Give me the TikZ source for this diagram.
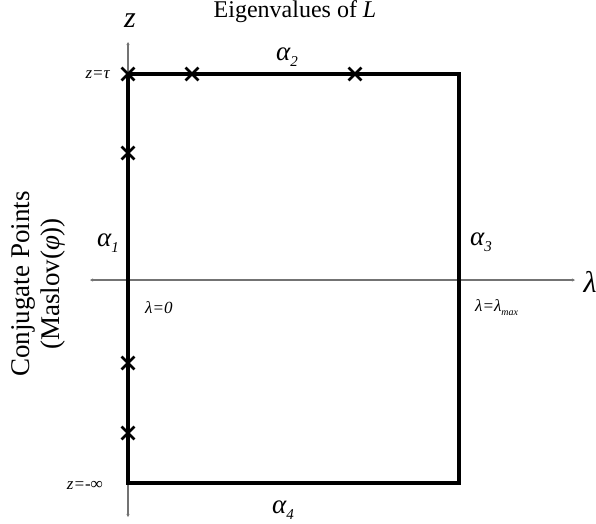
\documentclass[tikz,border=0pt]{standalone}
\usepackage{fontspec}
\setmainfont{Liberation Serif}
\usetikzlibrary{shapes.misc,arrows.meta}
\tikzset{
  axisline/.style={draw=black!55, line width=1.3pt, {Stealth[length=3pt,width=3pt]}-{Stealth[length=3pt,width=3pt]}},
  frameline/.style={draw=black, line width=3.4pt, line join=miter},
  xmark/.style={cross out, draw=black, line width=2.8pt, minimum size=10pt, inner sep=0pt},
  biglab/.style={inner sep=0pt, font=\fontsize{27}{29}\selectfont\itshape},
  smalllab/.style={inner sep=0pt, font=\fontsize{17}{19}\selectfont\itshape},
  titlelab/.style={inner sep=0pt, font=\fontsize{24}{26}\selectfont},
}
\newcommand{\alab}[1]{α\raisebox{-0.45ex}{\fontsize{15}{15}\selectfont #1}}
\begin{document}
\begin{tikzpicture}[x={(1pt,0)}, y={(0,-1pt)}]
\useasboundingbox (0,0) rectangle (596,523);
% axes
\coordinate (vtop) at (128,42);
\coordinate (vbot) at (128,517);
\coordinate (hleft) at (90,280);
\coordinate (hright) at (575,280);
\draw[axisline] (vbot) -- (vtop);
\draw[axisline] (hleft) -- (hright);
% frame
\coordinate (TL) at (128,74);
\coordinate (TR) at (459,74);
\coordinate (BR) at (459,483);
\coordinate (BL) at (128,483);
\draw[frameline] (TL) -- (TR) -- (BR) -- (BL) -- cycle;
% crosses
\node[xmark] (x1) at (128,74) {};
\node[xmark] (x2) at (192,74) {};
\node[xmark] (x3) at (355,74) {};
\node[xmark] (x4) at (128,153) {};
\node[xmark] (x5) at (128,363) {};
\node[xmark] (x6) at (128,433) {};
% labels
\node[titlelab] (title) at (295,12) {Eigenvalues of \textit{L}};
\node[inner sep=0pt, font=\fontsize{30}{32}\selectfont\itshape] (zlab) at (130,21) {z};
\node[inner sep=0pt, font=\fontsize{30}{32}\selectfont\itshape] (llab) at (590,282) {λ};
\node[smalllab, anchor=east] (ztau) at (110,75) {z=τ};
\node[smalllab, anchor=east] (zinf) at (103,485) {z=-∞};
\node[smalllab, anchor=west] (l0) at (145,308) {λ=0};
\node[smalllab, anchor=west] (lmax) at (475,308) {λ=λ\raisebox{-0.5ex}{\fontsize{10}{10}\selectfont max}};
\node[biglab] (a1) at (108,243) {\alab{1}};
\node[biglab] (a2) at (287,57) {\alab{2}};
\node[biglab] (a3) at (481,242) {\alab{3}};
\node[biglab] (a4) at (283,510) {\alab{4}};
\node[inner sep=0pt, rotate=90, align=center, font=\fontsize{27}{30}\selectfont] (cp) at (38,284) {Conjugate Points\\(Maslov(\textit{φ}))};
\end{tikzpicture}
\end{document}
